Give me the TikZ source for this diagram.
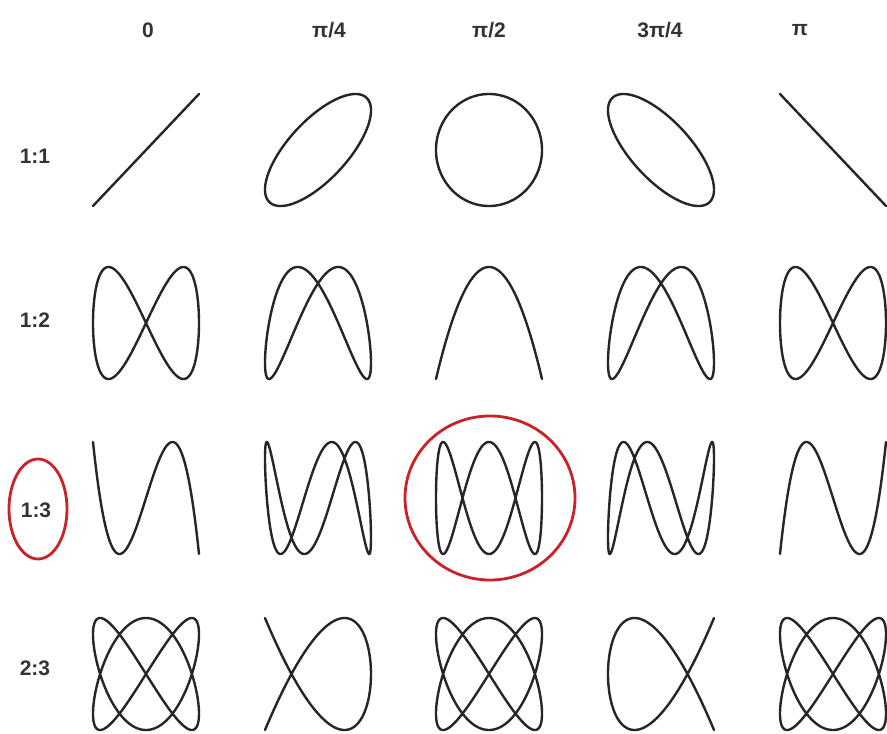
\documentclass[tikz,border=0pt]{standalone}
\usepackage{fontspec}
\setmainfont{Liberation Sans}
\definecolor{ringred}{RGB}{200,35,40}
\newcommand\lissa[6]{%
  \draw[curve] plot[domain=0:360,samples=361,variable=\t]
    ({#1+53*sin(#3*\t)},{#2-56*sin(#4*\t+#5)});}
\begin{document}
\begin{tikzpicture}[x=1pt,y=-1pt,
  curve/.style={line width=2.4pt,line join=round,line cap=round,black!85},
  lbl/.style={font=\fontsize{21}{24}\selectfont\bfseries,text=black!80,inner sep=0pt},
  ring/.style={draw=ringred,line width=2.8pt}]
\useasboundingbox (0,0) rectangle (887,734);
\fill[white] (0,0) rectangle (887,734);
% column headers
\node[lbl] (h0) at (148,30) {0};
\node[lbl] (h1) at (329,30) {π/4};
\node[lbl] (h2) at (489,30) {π/2};
\node[lbl] (h3) at (660,30) {3π/4};
\node[lbl] (h4) at (800,30) {π};
% row labels
\node[lbl] (r1) at (35,156) {1:1};
\node[lbl] (r2) at (35,320) {1:2};
\node[lbl] (r3) at (36,510) {1:3};
\node[lbl] (r4) at (35,668) {2:3};
% red rings
\draw[ring] (38,509) ellipse [x radius=29,y radius=50];
\draw[ring] (490,498) ellipse [x radius=85,y radius=82];
% rows: centres y = 150, 323, 498, 674 ; columns x = 146, 318, 489, 661, 833
\foreach \cx/\ph in {146/0,318/45,489/90,661/135,833/180}{
  \lissa{\cx}{150}{1}{1}{\ph}{}
  \lissa{\cx}{323}{1}{2}{\ph}{}
  \lissa{\cx}{498}{1}{3}{\ph}{}
  \lissa{\cx}{674}{2}{3}{\ph}{}
}
\end{tikzpicture}
\end{document}
